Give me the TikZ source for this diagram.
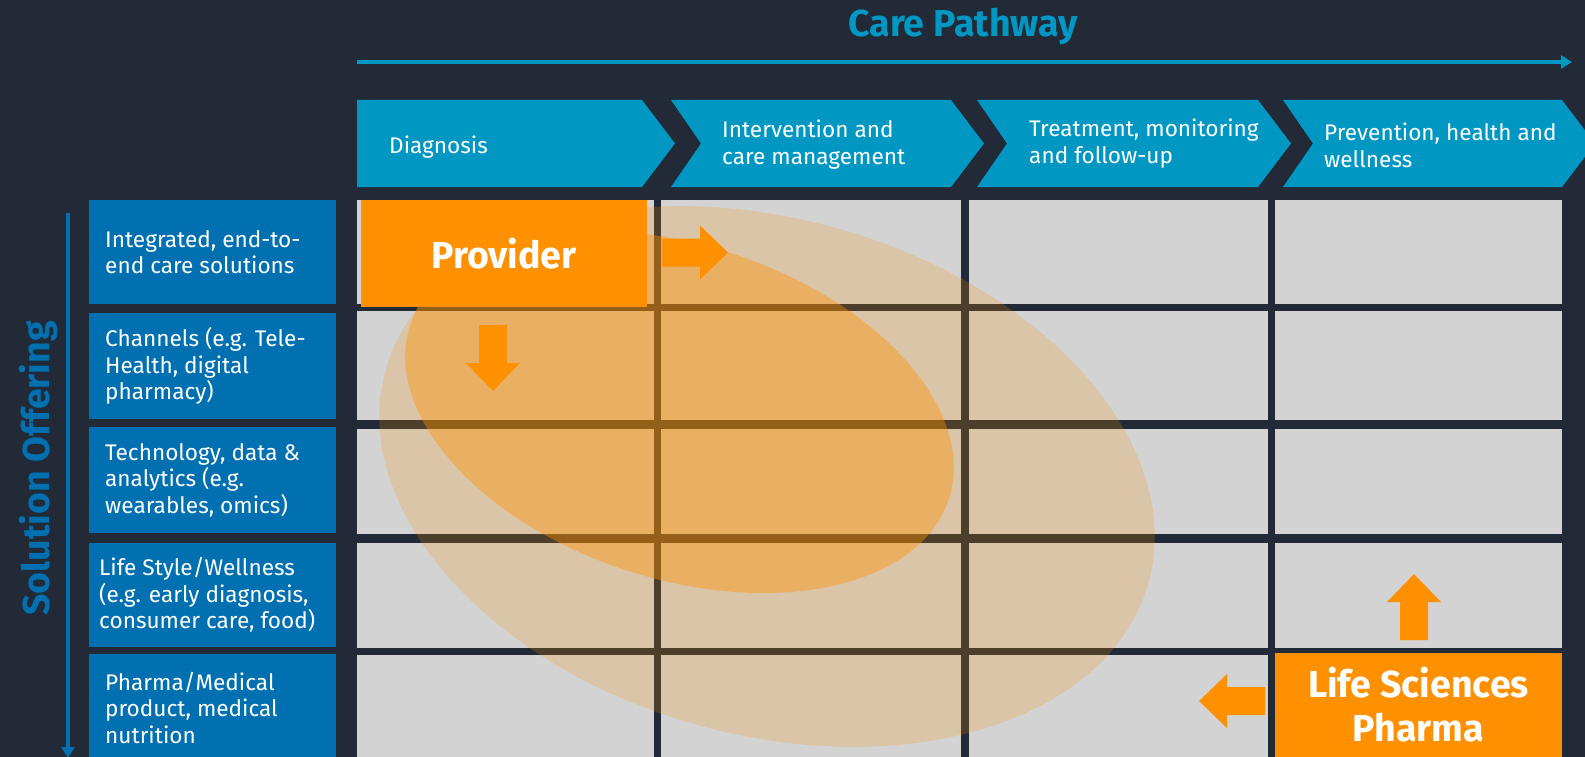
\documentclass[tikz,border=0pt]{standalone}
\usepackage{fontspec}
\setmainfont{Fira Sans}
\usepackage{tikz}
\usetikzlibrary{arrows.meta,positioning,calc}

\definecolor{bgnavy}{HTML}{212A36}
\definecolor{pathteal}{HTML}{0097C3}
\definecolor{offerblue}{HTML}{0070B0}
\definecolor{cellgray}{HTML}{D3D3D3}
\definecolor{provorange}{HTML}{FF9100}

\begin{document}
\begin{tikzpicture}[
  x=1pt,y=-1pt,
  phase/.style={fill=pathteal},
  phasetxt/.style={anchor=west,inner sep=0pt,align=left,text=white,font=\fontsize{22.6}{27}\selectfont},
  rowbox/.style={fill=offerblue,minimum width=247pt,inner sep=0pt},
  rowtxt/.style={anchor=west,inner sep=0pt,align=left,text=white,font=\fontsize{22.6}{26.5}\selectfont},
  cell/.style={fill=cellgray},
  hub/.style={fill=provorange,inner sep=0pt,align=center,text=white,font=\bfseries\fontsize{37.5}{44}\selectfont},
  halo/.style={fill=provorange,opacity=.2},
  core/.style={fill=provorange,opacity=.4},
  axis/.style={line width=4pt,-{Triangle[length=11pt,width=13pt]}},
  bigtxt/.style={font=\bfseries\fontsize{37.5}{42}\selectfont},
  blockarr/.pic={\fill[provorange] (0,-14) -- (38,-14) -- (38,-27) -- (66,0) -- (38,27) -- (38,14) -- (0,14) -- cycle;}
]
\useasboundingbox (0,0) rectangle (1585,757);
\clip (0,0) rectangle (1585,757);
\fill[bgnavy] (0,0) rectangle (1585,757);

\node[bigtxt,text=pathteal,anchor=base] (cp-title) at (963,37) {Care Pathway};
\coordinate (cp-from) at (357,62);
\coordinate (cp-to) at (1572,62);
\draw[axis,pathteal] (cp-from) -- (cp-to);

\foreach \xa/\xb/\n in {357/642/0,671/951/30,977/1258/30,1283/1562/30}
  \fill[phase] (\xa,100) -- (\xb,100) -- ({\xb+33},143.5) -- (\xb,187) -- (\xa,187) -- ({\xa+\n},143.5) -- cycle;
\node[phasetxt] (ph1) at (389,147) {Diagnosis};
\node[phasetxt] (ph2) at (722,145) {Intervention and\\care management};
\node[phasetxt] (ph3) at (1029,144) {Treatment, monitoring\\and follow-up};
\node[phasetxt] (ph4) at (1324,145) {Prevention, health and\\wellness};

\foreach \r/\yc/\h/\xt/\txt in {
  1/252/104/105/{Integrated, end-to-\\end care solutions},
  2/366/106/105/{Channels (e.g. Tele-\\Health, digital\\pharmacy)},
  3/480/106/105/{Technology, data \&\\analytics (e.g.\\wearables, omics)},
  4/595/104/99/{Life Style/Wellness\\(e.g. early diagnosis,\\consumer care, food)},
  5/708/108/105/{Pharma/Medical\\product, medical\\nutrition}}{
  \node[rowbox,minimum height={\h pt}] (row\r) at (212.5,\yc) {};
  \node[rowtxt] (row\r-txt) at (\xt,\yc) {\txt};
}

\foreach \ca/\cb in {357/654,661/961,969/1268,1275/1562}
  \foreach \ra/\rb in {200/304,311/420,429/534,543/648,655/770}
    \fill[cell] (\ca,\ra) rectangle (\cb,\rb);

\fill[halo,rotate around={-15.6:(767,476.5)}] (767,476.5) ellipse [x radius=396pt,y radius=258pt];
\fill[core,rotate around={-17.8:(679.5,412)}] (679.5,412) ellipse [x radius=283pt,y radius=167pt];

\node[hub,minimum width=286pt,minimum height=107pt] (provider) at (504,253.5) {Provider};
\node[hub,minimum width=287pt,minimum height=104pt] (lifesci) at (1418.5,705) {Life Sciences\\Pharma};
\pic at (662,252.5) {blockarr};
\pic[rotate=-90] at (493,325) {blockarr};
\pic[rotate=90] at (1414,640) {blockarr};
\pic[rotate=180] at (1265,701) {blockarr};

\coordinate (so-from) at (68,213);
\coordinate (so-to) at (68,758);
\draw[axis,offerblue] (so-from) -- (so-to);
\node[bigtxt,text=offerblue,rotate=90,anchor=base] (offer) at (49,468.5) {Solution Offering};
\end{tikzpicture}
\end{document}
